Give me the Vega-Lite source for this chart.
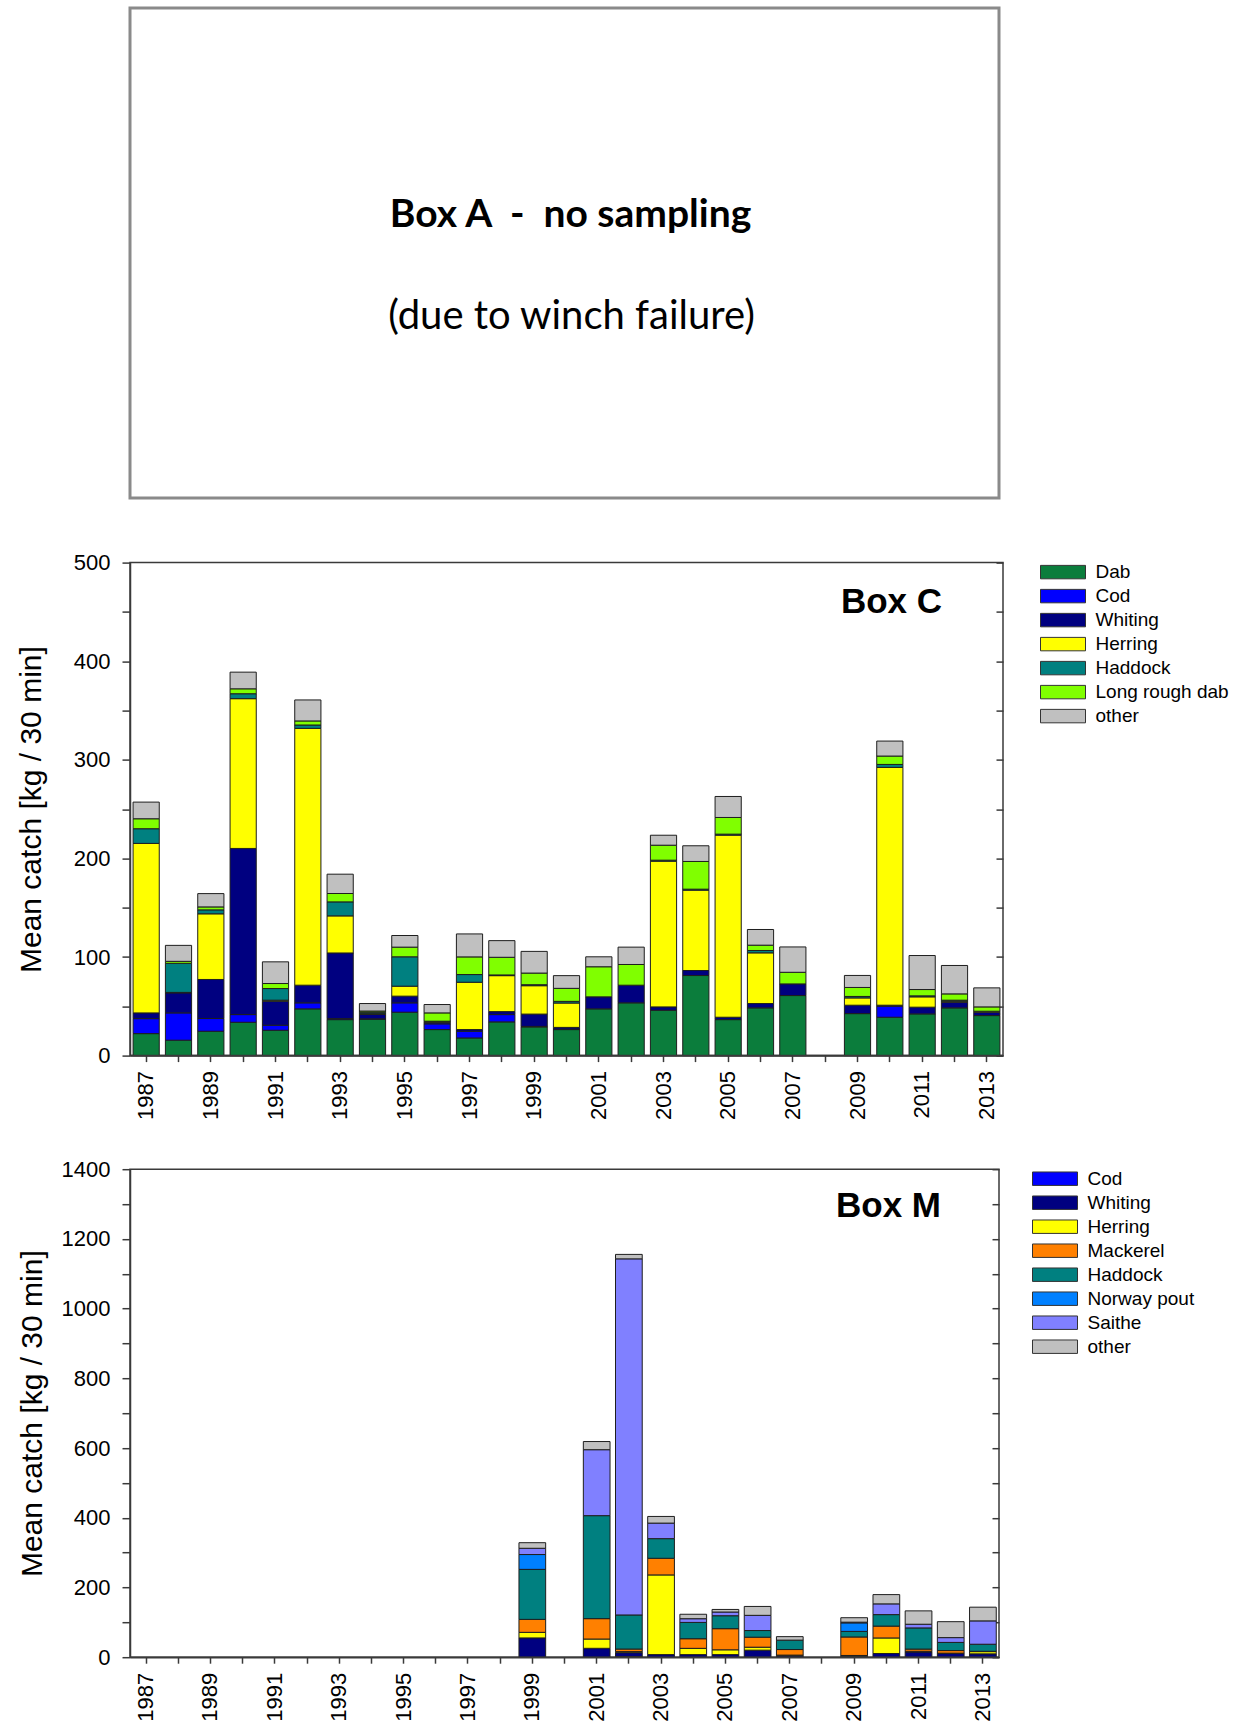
{
  "$schema": "https://vega.github.io/schema/vega-lite/v6.json",
  "background": "white",
  "padding": {"left": 13, "top": 6, "right": 0, "bottom": 0},
  "spacing": 36.6,
  "resolve": {"scale": {"color": "independent"}, "legend": {"color": "independent"}},
  "config": {
    "font": "Liberation Sans",
    "axis": {"labelFont": "Liberation Sans", "labelFontSize": 22, "labelColor": "#000", "titleFont": "Liberation Sans", "titleFontSize": 30, "titleFontWeight": "normal", "titleColor": "#000", "domainColor": "#3a3a3a", "domainWidth": 1.5, "tickColor": "#3a3a3a", "tickWidth": 1.5, "grid": false, "labelOverlap": false, "labelFlush": false},
    "legend": {"labelFont": "Liberation Sans", "labelFontSize": 19, "labelColor": "#000", "symbolType": "M-1,-0.84H4.625V0.84H-1Z", "symbolSize": 256, "symbolStrokeColor": "#333", "symbolStrokeWidth": 1, "labelOffset": 37.5, "rowPadding": 4, "padding": 0}
  },
  "datasets": {
    "boxC": [
      {"year":1987,"species":"Dab","catch":22.3},{"year":1987,"species":"Cod","catch":15.2},{"year":1987,"species":"Whiting","catch":5.8},{"year":1987,"species":"Herring","catch":171.9},{"year":1987,"species":"Haddock","catch":14.9},{"year":1987,"species":"Long rough dab","catch":10.1},{"year":1987,"species":"other","catch":16.9},
      {"year":1988,"species":"Dab","catch":15.6},{"year":1988,"species":"Cod","catch":27.7},{"year":1988,"species":"Whiting","catch":20.3},{"year":1988,"species":"Herring","catch":0.5},{"year":1988,"species":"Haddock","catch":29.5},{"year":1988,"species":"Long rough dab","catch":2},{"year":1988,"species":"other","catch":16.2},
      {"year":1989,"species":"Dab","catch":24.7},{"year":1989,"species":"Cod","catch":12.9},{"year":1989,"species":"Whiting","catch":39.6},{"year":1989,"species":"Herring","catch":66.6},{"year":1989,"species":"Haddock","catch":4},{"year":1989,"species":"Long rough dab","catch":3},{"year":1989,"species":"other","catch":13.5},
      {"year":1990,"species":"Dab","catch":33.8},{"year":1990,"species":"Cod","catch":7.8},{"year":1990,"species":"Whiting","catch":168.5},{"year":1990,"species":"Herring","catch":151.9},{"year":1990,"species":"Haddock","catch":5},{"year":1990,"species":"Long rough dab","catch":5},{"year":1990,"species":"other","catch":16.9},
      {"year":1991,"species":"Dab","catch":25.7},{"year":1991,"species":"Cod","catch":5.1},{"year":1991,"species":"Whiting","catch":24.4},{"year":1991,"species":"Herring","catch":1},{"year":1991,"species":"Haddock","catch":11.8},{"year":1991,"species":"Long rough dab","catch":5.1},{"year":1991,"species":"other","catch":22},
      {"year":1992,"species":"Dab","catch":47.4},{"year":1992,"species":"Cod","catch":6.1},{"year":1992,"species":"Whiting","catch":17.9},{"year":1992,"species":"Herring","catch":260.5},{"year":1992,"species":"Haddock","catch":3.4},{"year":1992,"species":"Long rough dab","catch":4.1},{"year":1992,"species":"other","catch":21.3},
      {"year":1993,"species":"Dab","catch":36.5},{"year":1993,"species":"Cod","catch":1},{"year":1993,"species":"Whiting","catch":66.6},{"year":1993,"species":"Herring","catch":37.6},{"year":1993,"species":"Haddock","catch":14.2},{"year":1993,"species":"Long rough dab","catch":8.5},{"year":1993,"species":"other","catch":19.6},
      {"year":1994,"species":"Dab","catch":37},{"year":1994,"species":"Cod","catch":0.3},{"year":1994,"species":"Whiting","catch":4.5},{"year":1994,"species":"Herring","catch":0.7},{"year":1994,"species":"Haddock","catch":1.5},{"year":1994,"species":"Long rough dab","catch":1.2},{"year":1994,"species":"other","catch":7.6},
      {"year":1995,"species":"Dab","catch":44},{"year":1995,"species":"Cod","catch":9.5},{"year":1995,"species":"Whiting","catch":6.8},{"year":1995,"species":"Herring","catch":10.1},{"year":1995,"species":"Haddock","catch":29.8},{"year":1995,"species":"Long rough dab","catch":9.8},{"year":1995,"species":"other","catch":11.8},
      {"year":1996,"species":"Dab","catch":26.4},{"year":1996,"species":"Cod","catch":5.8},{"year":1996,"species":"Whiting","catch":1.7},{"year":1996,"species":"Herring","catch":0.5},{"year":1996,"species":"Haddock","catch":0.5},{"year":1996,"species":"Long rough dab","catch":8.4},{"year":1996,"species":"other","catch":8.5},
      {"year":1997,"species":"Dab","catch":17.9},{"year":1997,"species":"Cod","catch":6.8},{"year":1997,"species":"Whiting","catch":1.7},{"year":1997,"species":"Herring","catch":48},{"year":1997,"species":"Haddock","catch":7.8},{"year":1997,"species":"Long rough dab","catch":17.9},{"year":1997,"species":"other","catch":23.3},
      {"year":1998,"species":"Dab","catch":34.2},{"year":1998,"species":"Cod","catch":7.4},{"year":1998,"species":"Whiting","catch":3},{"year":1998,"species":"Herring","catch":36.5},{"year":1998,"species":"Haddock","catch":0.7},{"year":1998,"species":"Long rough dab","catch":17.9},{"year":1998,"species":"other","catch":16.9},
      {"year":1999,"species":"Dab","catch":29.1},{"year":1999,"species":"Cod","catch":0.5},{"year":1999,"species":"Whiting","catch":12.5},{"year":1999,"species":"Herring","catch":28.8},{"year":1999,"species":"Haddock","catch":1},{"year":1999,"species":"Long rough dab","catch":11.8},{"year":1999,"species":"other","catch":22},
      {"year":2000,"species":"Dab","catch":26.4},{"year":2000,"species":"Cod","catch":0.5},{"year":2000,"species":"Whiting","catch":1.7},{"year":2000,"species":"Herring","catch":24.7},{"year":2000,"species":"Haddock","catch":1.7},{"year":2000,"species":"Long rough dab","catch":13.2},{"year":2000,"species":"other","catch":12.9},
      {"year":2001,"species":"Dab","catch":47.4},{"year":2001,"species":"Whiting","catch":12.2},{"year":2001,"species":"Long rough dab","catch":30.5},{"year":2001,"species":"other","catch":10.1},
      {"year":2002,"species":"Dab","catch":53.5},{"year":2002,"species":"Whiting","catch":17.9},{"year":2002,"species":"Long rough dab","catch":21},{"year":2002,"species":"other","catch":17.6},
      {"year":2003,"species":"Dab","catch":46},{"year":2003,"species":"Whiting","catch":3.4},{"year":2003,"species":"Herring","catch":147.8},{"year":2003,"species":"Haddock","catch":1},{"year":2003,"species":"Long rough dab","catch":15.2},{"year":2003,"species":"other","catch":10.1},
      {"year":2004,"species":"Dab","catch":81.2},{"year":2004,"species":"Whiting","catch":5.1},{"year":2004,"species":"Herring","catch":81.5},{"year":2004,"species":"Haddock","catch":1},{"year":2004,"species":"Long rough dab","catch":28.1},{"year":2004,"species":"other","catch":15.9},
      {"year":2005,"species":"Dab","catch":36.5},{"year":2005,"species":"Whiting","catch":2.4},{"year":2005,"species":"Herring","catch":184.7},{"year":2005,"species":"Haddock","catch":1},{"year":2005,"species":"Long rough dab","catch":16.9},{"year":2005,"species":"other","catch":21.3},
      {"year":2006,"species":"Dab","catch":48.4},{"year":2006,"species":"Whiting","catch":4.4},{"year":2006,"species":"Herring","catch":51.4},{"year":2006,"species":"Haddock","catch":2.4},{"year":2006,"species":"Long rough dab","catch":5.4},{"year":2006,"species":"other","catch":15.9},
      {"year":2007,"species":"Dab","catch":60.9},{"year":2007,"species":"Whiting","catch":11.8},{"year":2007,"species":"Long rough dab","catch":11.8},{"year":2007,"species":"other","catch":25.7},
      {"year":2009,"species":"Dab","catch":42.6},{"year":2009,"species":"Whiting","catch":8.5},{"year":2009,"species":"Herring","catch":7.4},{"year":2009,"species":"Haddock","catch":1.5},{"year":2009,"species":"Long rough dab","catch":9.1},{"year":2009,"species":"other","catch":12.2},
      {"year":2010,"species":"Dab","catch":38.9},{"year":2010,"species":"Cod","catch":11.2},{"year":2010,"species":"Whiting","catch":1},{"year":2010,"species":"Herring","catch":241.2},{"year":2010,"species":"Haddock","catch":3},{"year":2010,"species":"Long rough dab","catch":8.5},{"year":2010,"species":"other","catch":15.2},
      {"year":2011,"species":"Dab","catch":42.3},{"year":2011,"species":"Whiting","catch":6.8},{"year":2011,"species":"Herring","catch":10.5},{"year":2011,"species":"Haddock","catch":1},{"year":2011,"species":"Long rough dab","catch":6.4},{"year":2011,"species":"other","catch":34.5},
      {"year":2012,"species":"Dab","catch":48.4},{"year":2012,"species":"Whiting","catch":5.8},{"year":2012,"species":"Herring","catch":1},{"year":2012,"species":"Haddock","catch":1},{"year":2012,"species":"Long rough dab","catch":6.4},{"year":2012,"species":"other","catch":28.8},
      {"year":2013,"species":"Dab","catch":40.6},{"year":2013,"species":"Whiting","catch":3.4},{"year":2013,"species":"Herring","catch":1},{"year":2013,"species":"Long rough dab","catch":4.4},{"year":2013,"species":"other","catch":19.3}
    ],
    "boxM": [
      {"year":1999,"species":"Whiting","catch":55.3},{"year":1999,"species":"Herring","catch":16},{"year":1999,"species":"Mackerel","catch":37.2},{"year":1999,"species":"Haddock","catch":143.5},{"year":1999,"species":"Norway pout","catch":42.5},{"year":1999,"species":"Saithe","catch":18},{"year":1999,"species":"other","catch":16},
      {"year":2001,"species":"Whiting","catch":25.5},{"year":2001,"species":"Herring","catch":26.6},{"year":2001,"species":"Mackerel","catch":58.5},{"year":2001,"species":"Haddock","catch":295.5},{"year":2001,"species":"Saithe","catch":189.2},{"year":2001,"species":"other","catch":23.4},
      {"year":2002,"species":"Cod","catch":2},{"year":2002,"species":"Whiting","catch":11},{"year":2002,"species":"Herring","catch":3},{"year":2002,"species":"Mackerel","catch":7.4},{"year":2002,"species":"Haddock","catch":97.8},{"year":2002,"species":"Saithe","catch":1021.6},{"year":2002,"species":"other","catch":12.8},
      {"year":2003,"species":"Whiting","catch":7.4},{"year":2003,"species":"Herring","catch":228.6},{"year":2003,"species":"Mackerel","catch":47.8},{"year":2003,"species":"Haddock","catch":56.3},{"year":2003,"species":"Saithe","catch":44.6},{"year":2003,"species":"other","catch":19.1},
      {"year":2004,"species":"Whiting","catch":7.4},{"year":2004,"species":"Herring","catch":18},{"year":2004,"species":"Mackerel","catch":27.6},{"year":2004,"species":"Haddock","catch":46.8},{"year":2004,"species":"Saithe","catch":10.6},{"year":2004,"species":"other","catch":12.8},
      {"year":2005,"species":"Whiting","catch":7.4},{"year":2005,"species":"Herring","catch":13.8},{"year":2005,"species":"Mackerel","catch":60.6},{"year":2005,"species":"Haddock","catch":37.2},{"year":2005,"species":"Saithe","catch":10.6},{"year":2005,"species":"other","catch":7.4},
      {"year":2006,"species":"Whiting","catch":20.2},{"year":2006,"species":"Herring","catch":8.5},{"year":2006,"species":"Mackerel","catch":28.7},{"year":2006,"species":"Haddock","catch":19.1},{"year":2006,"species":"Saithe","catch":43.6},{"year":2006,"species":"other","catch":25.5},
      {"year":2007,"species":"Whiting","catch":4},{"year":2007,"species":"Herring","catch":2},{"year":2007,"species":"Mackerel","catch":16},{"year":2007,"species":"Haddock","catch":27},{"year":2007,"species":"other","catch":10},
      {"year":2009,"species":"Whiting","catch":3},{"year":2009,"species":"Herring","catch":2},{"year":2009,"species":"Mackerel","catch":53},{"year":2009,"species":"Haddock","catch":16},{"year":2009,"species":"Norway pout","catch":24.5},{"year":2009,"species":"Saithe","catch":2},{"year":2009,"species":"other","catch":12.8},
      {"year":2010,"species":"Whiting","catch":10.6},{"year":2010,"species":"Herring","catch":44.6},{"year":2010,"species":"Mackerel","catch":34},{"year":2010,"species":"Haddock","catch":33},{"year":2010,"species":"Saithe","catch":30.8},{"year":2010,"species":"other","catch":26.6},
      {"year":2011,"species":"Whiting","catch":14.9},{"year":2011,"species":"Herring","catch":2},{"year":2011,"species":"Mackerel","catch":6.4},{"year":2011,"species":"Haddock","catch":60.7},{"year":2011,"species":"Saithe","catch":10.6},{"year":2011,"species":"other","catch":38.3},
      {"year":2012,"species":"Whiting","catch":10.6},{"year":2012,"species":"Herring","catch":1},{"year":2012,"species":"Mackerel","catch":7.4},{"year":2012,"species":"Haddock","catch":23.4},{"year":2012,"species":"Saithe","catch":13.8},{"year":2012,"species":"other","catch":45.7},
      {"year":2013,"species":"Whiting","catch":9.6},{"year":2013,"species":"Herring","catch":6.4},{"year":2013,"species":"Mackerel","catch":1},{"year":2013,"species":"Haddock","catch":20.2},{"year":2013,"species":"Saithe","catch":67},{"year":2013,"species":"other","catch":39.3}
    ]
  },
  "vconcat": [
    {
      "width": 869,
      "height": 490,
      "view": {"stroke": "#8a8a8a", "strokeWidth": 3},
      "encoding": {
        "text": {"field": "text"},
        "x": {"datum": "Box A", "type": "nominal", "axis": {"labels": false, "domain": false, "ticks": true, "tickSize": 14.1, "tickOpacity": 0, "title": null}},
        "y": {"field": "text", "type": "ordinal", "scale": {"type": "point", "domain": ["Box A\u00a0\u00a0-\u00a0\u00a0no sampling", "(due to winch failure)"], "padding": 1, "align": 0.5}, "axis": {"labels": false, "domain": false, "ticks": true, "tickSize": 114.8, "tickOpacity": 0, "title": null}}
      },
      "layer": [
        {
          "data": {"values": [{"text": "Box A\u00a0\u00a0-\u00a0\u00a0no sampling"}]},
          "mark": {"type": "text", "font": "Lato", "fontSize": 39, "fontWeight": "bold", "color": "#000", "baseline": "middle", "align": "center", "dx": 6, "dy": 43.5}
        },
        {
          "data": {"values": [{"text": "(due to winch failure)"}]},
          "mark": {"type": "text", "font": "Lato", "fontSize": 40, "fontWeight": "normal", "color": "#000", "baseline": "middle", "align": "center", "dx": 7, "dy": -17.5}
        }
      ]
    },
    {
      "width": 873,
      "height": 493,
      "view": {"stroke": "#3a3a3a", "strokeWidth": 1.5},
      "title": {"text": "Box C", "orient": "top", "anchor": "end", "frame": "group", "offset": -96, "dx": -61, "fontSize": 35, "fontWeight": "bold", "font": "Liberation Sans", "color": "#000", "baseline": "alphabetic"},
      "layer": [
        {
          "data": {"name": "boxC"},
          "transform": [{"calculate": "indexof(['Dab','Cod','Whiting','Herring','Haddock','Long rough dab','other'], datum.species)", "as": "k"}],
          "mark": {"type": "bar", "stroke": "#1e1e1e", "strokeWidth": 1},
          "encoding": {
            "x": {"field": "year", "type": "ordinal", "scale": {"domain": [1987,1988,1989,1990,1991,1992,1993,1994,1995,1996,1997,1998,1999,2000,2001,2002,2003,2004,2005,2006,2007,2008,2009,2010,2011,2012,2013], "paddingInner": 0.19, "paddingOuter": 0.095}, "axis": {"labelAngle": 270, "labelExpr": "datum.value % 2 === 1 ? datum.label : ''", "tickSize": 6, "labelPadding": 9, "title": null}},
            "y": {"field": "catch", "type": "quantitative", "stack": "zero", "scale": {"domain": [0, 500], "nice": false}, "axis": {"orient": "left", "values": [0,50,100,150,200,250,300,350,400,450,500], "format": "d", "labelExpr": "datum.value % 100 === 0 ? datum.label : ''", "tickSize": 8, "labelPadding": 12, "title": "Mean catch [kg / 30 min]", "titlePadding": 27}},
            "color": {"field": "species", "type": "nominal", "scale": {"domain": ["Dab","Cod","Whiting","Herring","Haddock","Long rough dab","other"], "range": ["#0b7d3c","#0000ff","#000080","#ffff00","#008080","#80ff00","#c0c0c0"]}, "legend": {"title": null, "orient": "right", "offset": 35}},
            "order": {"field": "k", "type": "quantitative"}
          }
        },
        {
          "data": {"values": [{}]},
          "mark": {"type": "rule", "color": "#3a3a3a", "strokeWidth": 1.5},
          "encoding": {"y": {"datum": 0, "type": "quantitative", "axis": {"orient": "right", "labels": false, "domain": false, "ticks": true, "tickSize": -7, "values": [0,50,100,150,200,250,300,350,400,450,500], "title": null}}}
        }
      ],
      "resolve": {"axis": {"y": "independent"}}
    },
    {
      "width": 869,
      "height": 488,
      "view": {"stroke": "#3a3a3a", "strokeWidth": 1.5},
      "title": {"text": "Box M", "orient": "top", "anchor": "end", "frame": "group", "offset": -94, "dx": -58, "fontSize": 35, "fontWeight": "bold", "font": "Liberation Sans", "color": "#000", "baseline": "alphabetic"},
      "layer": [
        {
          "data": {"name": "boxM"},
          "transform": [{"calculate": "indexof(['Cod','Whiting','Herring','Mackerel','Haddock','Norway pout','Saithe','other'], datum.species)", "as": "k"}],
          "mark": {"type": "bar", "stroke": "#1e1e1e", "strokeWidth": 1},
          "encoding": {
            "x": {"field": "year", "type": "ordinal", "scale": {"domain": [1987,1988,1989,1990,1991,1992,1993,1994,1995,1996,1997,1998,1999,2000,2001,2002,2003,2004,2005,2006,2007,2008,2009,2010,2011,2012,2013], "paddingInner": 0.17, "paddingOuter": 0.085}, "axis": {"labelAngle": 270, "labelExpr": "datum.value % 2 === 1 ? datum.label : ''", "tickSize": 6, "labelPadding": 9, "title": null}},
            "y": {"field": "catch", "type": "quantitative", "stack": "zero", "scale": {"domain": [0, 1400], "nice": false}, "axis": {"orient": "left", "values": [0,100,200,300,400,500,600,700,800,900,1000,1100,1200,1300,1400], "format": "d", "labelExpr": "datum.value % 200 === 0 ? datum.label : ''", "tickSize": 8, "labelPadding": 12, "title": "Mean catch [kg / 30 min]", "titlePadding": 14}},
            "color": {"field": "species", "type": "nominal", "scale": {"domain": ["Cod","Whiting","Herring","Mackerel","Haddock","Norway pout","Saithe","other"], "range": ["#0000ff","#000080","#ffff00","#ff8000","#008080","#0080ff","#8080ff","#c0c0c0"]}, "legend": {"title": null, "orient": "right", "offset": 31}},
            "order": {"field": "k", "type": "quantitative"}
          }
        },
        {
          "data": {"values": [{}]},
          "mark": {"type": "rule", "color": "#3a3a3a", "strokeWidth": 1.5},
          "encoding": {"y": {"datum": 0, "type": "quantitative", "axis": {"orient": "right", "labels": false, "domain": false, "ticks": true, "tickSize": -7, "values": [0,100,200,300,400,500,600,700,800,900,1000,1100,1200,1300,1400], "title": null}}}
        }
      ],
      "resolve": {"axis": {"y": "independent"}}
    }
  ]
}
